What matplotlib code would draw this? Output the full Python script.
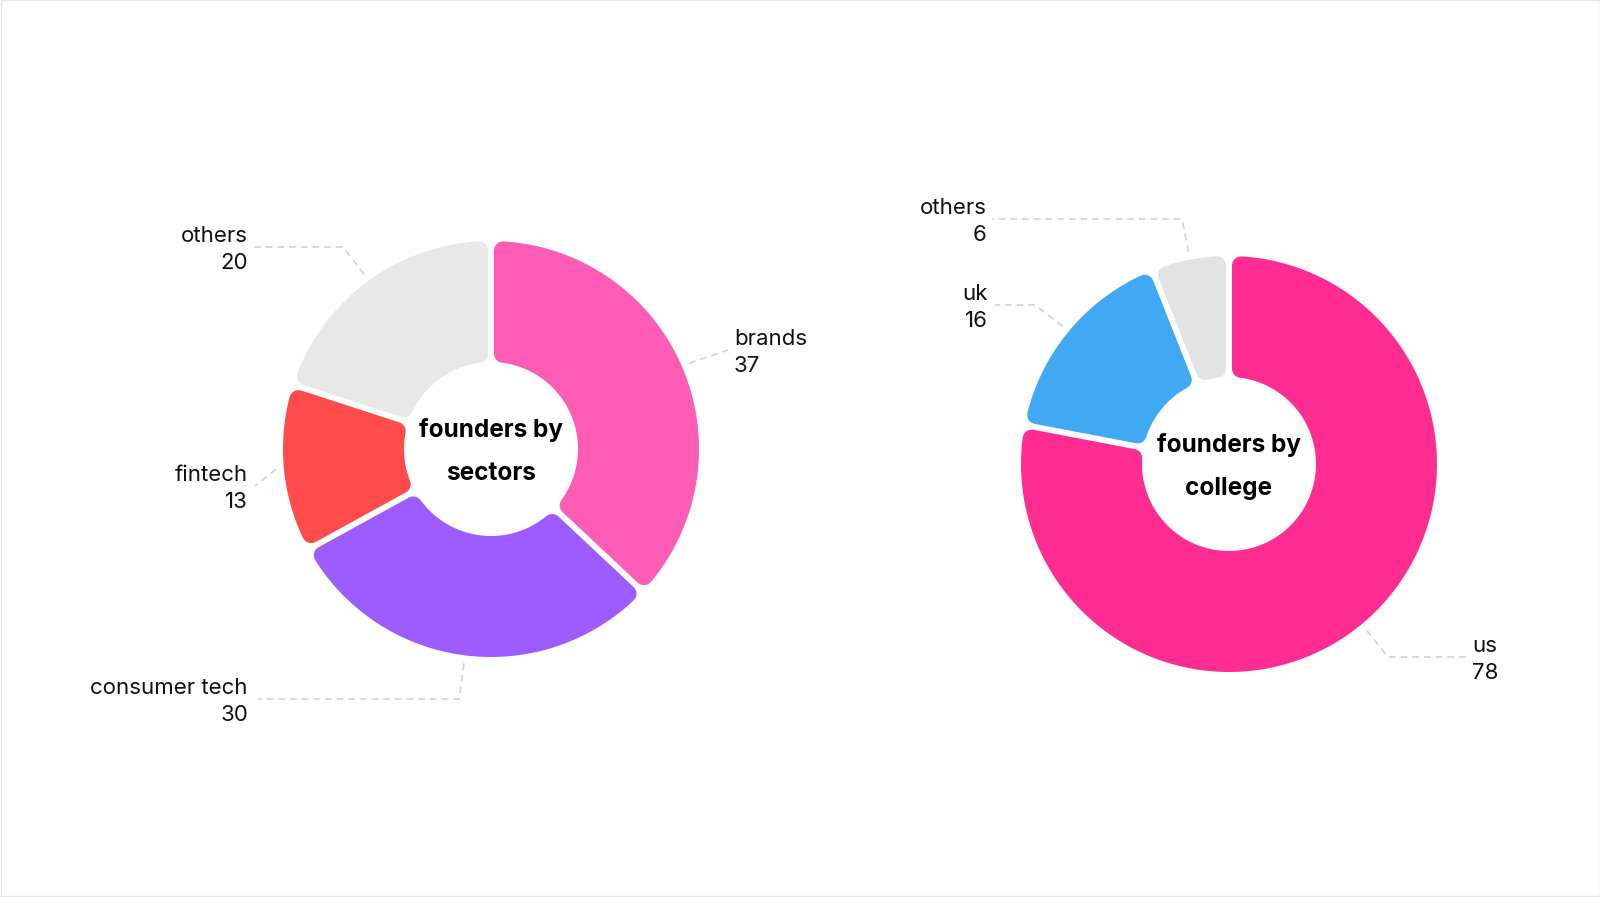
import numpy as np
import matplotlib.pyplot as plt
from matplotlib.patches import Polygon, Rectangle

plt.rcParams['font.family'] = ['Inter', 'DejaVu Sans']

# datos
sector_names = ['brands', 'consumer tech', 'fintech', 'others']
sector_values = [37, 30, 13, 20]
sector_colors = ['#FF5CB6', '#9C5CFF', '#FF4B4B', '#E8E8E8']

college_names = ['us', 'uk', 'others']
college_values = [78, 16, 6]
college_colors = ['#FF2D92', '#41A8F3', '#E3E3E3']

R_OUT, R_IN = 208, 87


def ring_segment(ax, cx, cy, t1, t2, color, gap=6, corner=9):
    """segmento de anillo (angulos horarios desde arriba) con esquinas redondeadas"""
    ro, ri = R_OUT - corner, R_IN + corner
    h = gap / 2 + corner
    p1, p2 = np.radians(90 - t1), np.radians(90 - t2)
    phi_o = np.linspace(p1 - np.arcsin(h / ro), p2 + np.arcsin(h / ro), 200)
    phi_i = np.linspace(p2 + np.arcsin(h / ri), p1 - np.arcsin(h / ri), 100)
    xs = np.concatenate([cx + ro * np.cos(phi_o), cx + ri * np.cos(phi_i)])
    ys = np.concatenate([cy - ro * np.sin(phi_o), cy - ri * np.sin(phi_i)])
    ax.add_patch(Polygon(np.column_stack([xs, ys]), closed=True, facecolor=color,
                         edgecolor=color, linewidth=2 * corner * 0.72, joinstyle='round'))


def donut(ax, cx, cy, names, values, colors, layout, title):
    total = sum(values)
    acc = 0
    for name, val, col in zip(names, values, colors):
        t1 = 360 * acc / total
        t2 = 360 * (acc + val) / total
        ring_segment(ax, cx, cy, t1, t2, col)
        # linea guia desde el angulo medio
        mid = np.radians(90 - (t1 + t2) / 2)
        sx, sy = cx + (R_OUT + 8) * np.cos(mid), cy - (R_OUT + 8) * np.sin(mid)
        elbow, end, tx, ha = layout[name]
        ax.plot([sx, elbow[0], end[0]], [sy, elbow[1], end[1]], color='#D2D2D2',
                lw=1.2, dashes=(4, 3))
        ax.text(tx, end[1] - 11, name, ha=ha, va='center', fontsize=16, color='#111111')
        ax.text(tx, end[1] + 16, str(val), ha=ha, va='center', fontsize=16, color='#111111')
        acc += val
    ax.text(cx, cy - 19, 'founders by', ha='center', va='center', fontsize=17.5,
            fontweight='bold', color='#000000')
    ax.text(cx, cy + 24, title, ha='center', va='center', fontsize=17.5,
            fontweight='bold', color='#000000')


fig = plt.figure(figsize=(16, 8.97), dpi=100)
ax = fig.add_axes([0, 0, 1, 1])
ax.set_xlim(0, 1600)
ax.set_ylim(897, 0)
ax.axis('off')

# borde tenue
ax.add_patch(Rectangle((0.5, 0.5), 1599, 896, fill=False, edgecolor='#E6E6E6', lw=1))

layout_sectors = {
    'brands': ((728, 350), (728, 350), 734, 'left'),
    'consumer tech': ((459, 699), (258, 699), 248, 'right'),
    'fintech': ((255, 486), (255, 486), 248, 'right'),
    'others': ((343, 247), (253, 247), 248, 'right'),
}
layout_college = {
    'us': ((1388, 657), (1467, 657), 1472, 'left'),
    'uk': ((1035, 305), (995, 305), 988, 'right'),
    'others': ((1182, 219), (992, 219), 987, 'right'),
}

donut(ax, 491, 449, sector_names, sector_values, sector_colors, layout_sectors, 'sectors')
donut(ax, 1229, 464, college_names, college_values, college_colors, layout_college, 'college')

fig.savefig('out.png', dpi=100)
